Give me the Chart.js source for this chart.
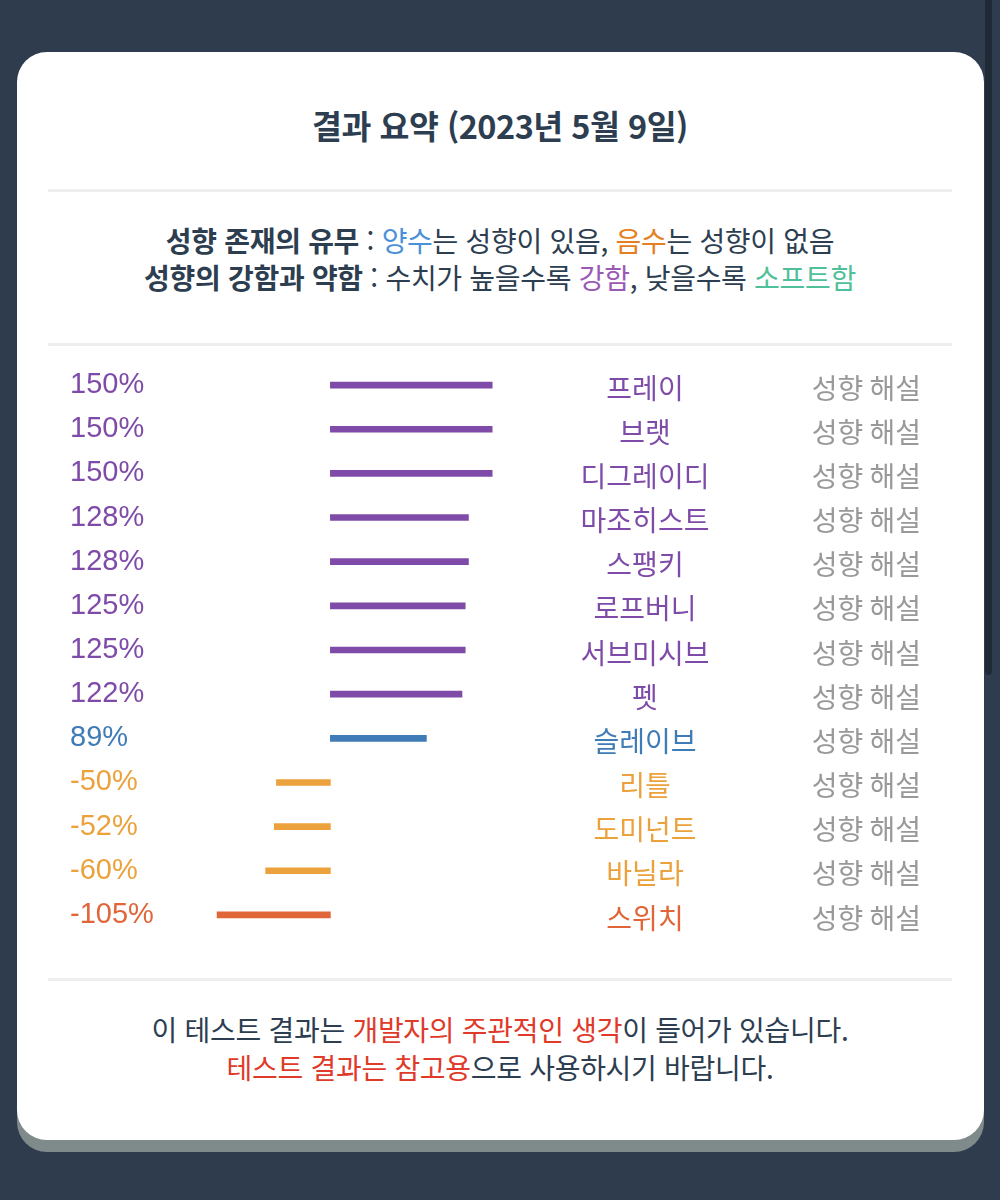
<!DOCTYPE html>
<html lang="ko">
<head>
<meta charset="utf-8">
<script src="https://cdn.jsdelivr.net/npm/chart.js@4"></script>
<style>
  html, body { margin: 0; padding: 0; }
  body { width: 1000px; height: 1200px; background: #2f3c4e; position: relative; overflow: hidden;
         font-family: "Noto Sans CJK KR", "Noto Sans", sans-serif; }
  .card { position: absolute; left: 17px; top: 52px; width: 967px; height: 1088px; background: #fff;
          border-radius: 30px; box-shadow: 0 12px 0 0 #7f8a8b; }
  .thumb { position: absolute; left: 985px; top: 0; width: 7px; height: 675px; background: #1f2a36; border-radius: 0 0 4px 4px; }
  .abs { position: absolute; left: 0; width: 1000px; text-align: center; white-space: nowrap; }
  .title { top: 102px; font-size: 32.5px; font-weight: 700; color: #2c3e50; line-height: 46px; letter-spacing: -0.5px; }
  .sep { position: absolute; left: 48px; width: 904px; height: 3px; background: #eeeeee; }
  .legend { font-size: 28px; color: #2c3e50; line-height: 37px; letter-spacing: -0.3px; }
  .legend b { font-weight: 700; }
  .footer { font-size: 28px; color: #2c3e50; line-height: 38px; letter-spacing: -0.3px; }
  .blue { color: #4a90d9; } .orange { color: #e67e22; } .purple { color: #9b59b6; } .teal { color: #4fc09a; }
  .red { color: #e03a2a; }
  #wrap { position: absolute; left: 48px; top: 363px; width: 904px; height: 574px; }
</style>
</head>
<body>
<div class="thumb"></div>
<div class="card"></div>
<div class="abs title">결과 요약 (2023년 5월 9일)</div>
<div class="sep" style="top:189px"></div>
<div class="abs legend" style="top:222px"><b>성향 존재의 유무</b> : <span class="blue">양수</span>는 성향이 있음, <span class="orange">음수</span>는 성향이 없음</div>
<div class="abs legend" style="top:259px"><b>성향의 강함과 약함</b> : 수치가 높을수록 <span class="purple">강함</span>, 낮을수록 <span class="teal">소프트함</span></div>
<div class="sep" style="top:343px"></div>
<div id="wrap"><canvas id="c"></canvas></div>
<div class="sep" style="top:978px"></div>
<div class="abs footer" style="top:1010px">이 테스트 결과는 <span class="red">개발자의 주관적인 생각</span>이 들어가 있습니다.</div>
<div class="abs footer" style="top:1048px"><span class="red">테스트 결과는 참고용</span>으로 사용하시기 바랍니다.</div>
<script>
const categories = ["프레이", "브랫", "디그레이디", "마조히스트", "스팽키", "로프버니", "서브미시브", "펫", "슬레이브", "리틀", "도미넌트", "바닐라", "스위치"];
const values = [150, 150, 150, 128, 128, 125, 125, 122, 89, -50, -52, -60, -105];
const colors = ["#7f4ba8", "#7f4ba8", "#7f4ba8", "#7f4ba8", "#7f4ba8", "#7f4ba8", "#7f4ba8", "#7f4ba8", "#3f7bb6", "#eba23d", "#eba23d", "#eba23d", "#e0663a"];
const notes = ["성향 해설", "성향 해설", "성향 해설", "성향 해설", "성향 해설", "성향 해설", "성향 해설", "성향 해설", "성향 해설", "성향 해설", "성향 해설", "성향 해설", "성향 해설"];

const textColumns = {
  id: 'textColumns',
  afterDraw(chart) {
    const ctx = chart.ctx;
    const ys = chart.scales.y;
    ctx.save();
    ctx.font = '28px "Noto Sans CJK KR", sans-serif';
    ctx.textBaseline = 'middle';
    categories.forEach((name, i) => {
      const py = ys.getPixelForValue(i) + 3;
      ctx.textAlign = 'center';
      ctx.fillStyle = colors[i];
      ctx.fillText(name, 597, py);
      ctx.textAlign = 'right';
      ctx.fillStyle = '#999999';
      ctx.fillText(notes[i], 873, py);
    });
    ctx.restore();
  }
};

new Chart(document.getElementById('c'), {
  type: 'bar',
  data: {
    labels: categories,
    datasets: [{
      data: values,
      backgroundColor: colors,
      borderWidth: 0,
      barThickness: 6
    }]
  },
  options: {
    indexAxis: 'y',
    responsive: true,
    maintainAspectRatio: false,
    animation: false,
    devicePixelRatio: 1,
    layout: { padding: { left: 22, right: 394, top: 0, bottom: 0 } },
    plugins: { legend: { display: false }, tooltip: { enabled: false } },
    scales: {
      x: {
        min: -119, max: 211,
        display: false,
        grid: { display: false }
      },
      y: {
        position: 'left',
        grid: { display: false, drawTicks: false },
        border: { display: false },
        ticks: {
          crossAlign: 'far',
          padding: 0,
          font: { family: '"Liberation Sans", Arial, sans-serif', size: 29 },
          color: (c) => colors[c.index],
          callback: (v, i) => values[i] + '%'
        },
        afterFit: (s) => { s.width = 132; s.paddingTop = 0; s.paddingBottom = 0; }
      }
    }
  },
  plugins: [textColumns]
});
</script>
</body>
</html>
